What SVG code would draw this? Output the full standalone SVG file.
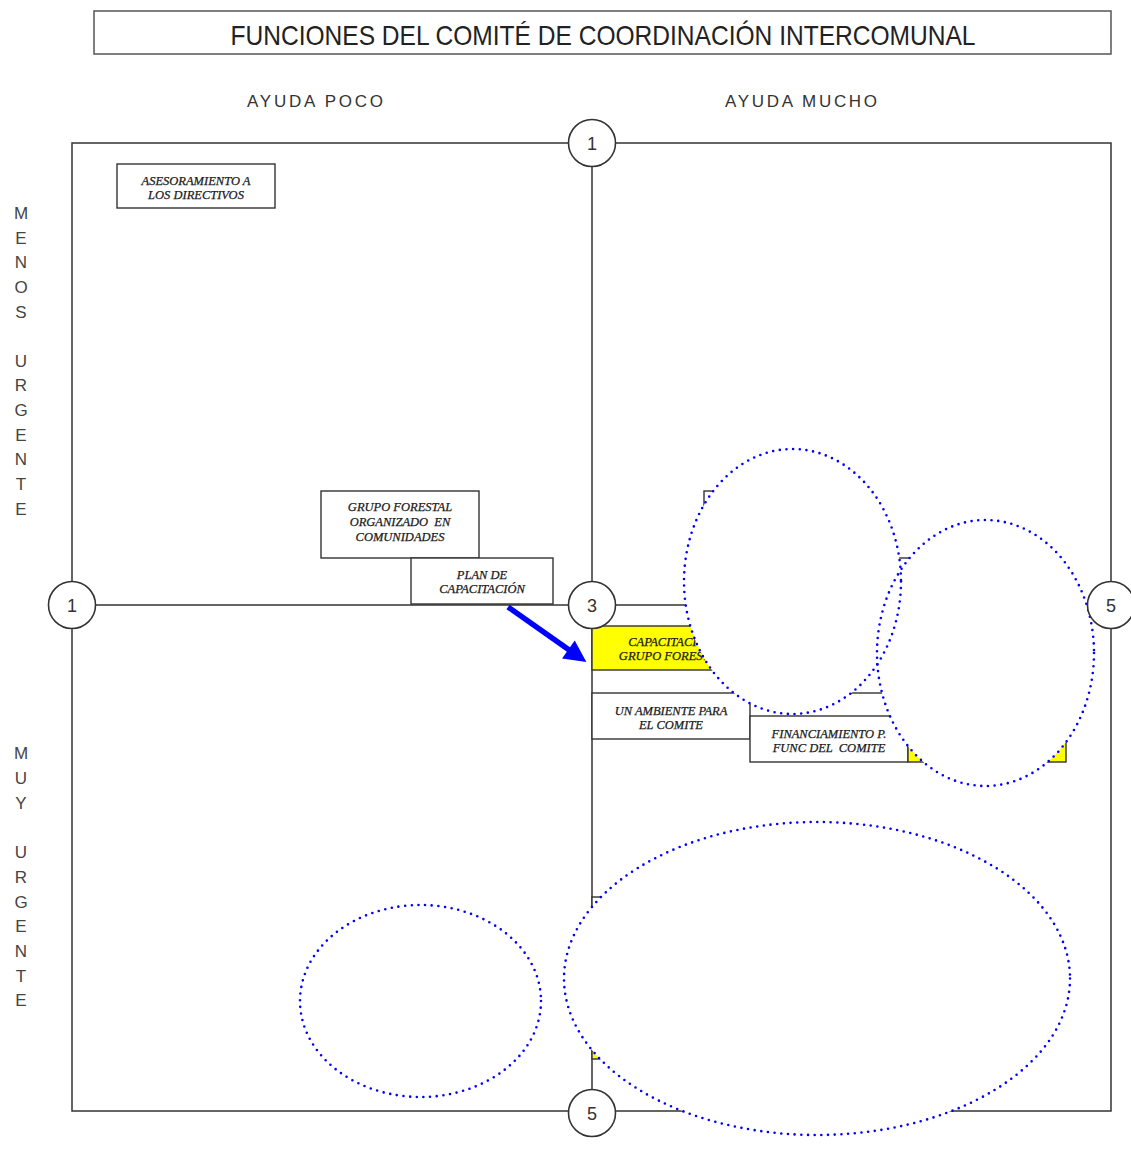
<svg xmlns="http://www.w3.org/2000/svg" width="1131" height="1171" viewBox="0 0 1131 1171">
  <style>
    .frame { fill: none; stroke: #333; stroke-width: 1.5; }
    .box { fill: #fff; stroke: #333; stroke-width: 1.4; }
    .ybox { fill: #ffff00; stroke: #333; stroke-width: 1.4; }
    .btxt { font-family: "Liberation Serif", "Times New Roman", serif; font-style: italic; font-size: 12.5px; fill: #1a1a1a; stroke: #1a1a1a; stroke-width: 0.25; text-anchor: middle; }
    .hdr { font-family: "Liberation Sans", Arial, sans-serif; font-size: 17px; fill: #333; text-anchor: middle; }
    .side { font-family: "Liberation Sans", Arial, sans-serif; font-size: 17px; fill: #444; text-anchor: middle; }
    .node circle { fill: #fff; stroke: #333; stroke-width: 1.6; }
    .node text { font-family: "Liberation Sans", Arial, sans-serif; font-size: 18px; fill: #333; text-anchor: middle; }
    .efill { fill: #fff; stroke: none; }
    .edot { fill: none; stroke: #0000ff; stroke-width: 2.6; stroke-dasharray: 0 6.7; stroke-linecap: round; }
  </style>
  <defs>
    <marker id="arrowHead" viewBox="0 0 10 10" refX="2" refY="5" markerWidth="4.4" markerHeight="4" orient="auto" markerUnits="strokeWidth">
      <path d="M0,0 L10,5 L0,10 z" fill="#0000ff"/>
    </marker>
  </defs>
  <rect width="1131" height="1171" fill="#fff"/>

  <!-- title -->
  <g id="title">
    <rect x="94" y="11" width="1017" height="43" fill="#fff" stroke="#555" stroke-width="1.5"/>
    <text x="603" y="45" font-family="'Liberation Sans', Arial, sans-serif" font-size="28" fill="#222" text-anchor="middle" textLength="745" lengthAdjust="spacingAndGlyphs">FUNCIONES DEL COMITÉ DE COORDINACIÓN INTERCOMUNAL</text>
  </g>

  <!-- column headers -->
  <text class="hdr" x="315" y="107" textLength="136" lengthAdjust="spacing">AYUDA POCO</text>
  <text class="hdr" x="801" y="107" textLength="152" lengthAdjust="spacing">AYUDA MUCHO</text>

  <!-- row labels, one letter per line -->
  <g id="label-menos-urgente" class="side">
    <text x="21" y="219">M</text><text x="21" y="244">E</text><text x="21" y="268">N</text>
    <text x="21" y="293">O</text><text x="21" y="318">S</text>
    <text x="21" y="367">U</text><text x="21" y="391">R</text><text x="21" y="416">G</text>
    <text x="21" y="441">E</text><text x="21" y="465">N</text><text x="21" y="490">T</text>
    <text x="21" y="515">E</text>
  </g>
  <g id="label-muy-urgente" class="side">
    <text x="21" y="759">M</text><text x="21" y="784">U</text><text x="21" y="809">Y</text>
    <text x="21" y="858">U</text><text x="21" y="883">R</text><text x="21" y="908">G</text>
    <text x="21" y="932">E</text><text x="21" y="957">N</text><text x="21" y="982">T</text>
    <text x="21" y="1006">E</text>
  </g>

  <!-- quadrant frame and axes -->
  <g id="axes">
    <rect class="frame" x="72" y="143" width="1039" height="968"/>
    <line class="frame" x1="592" y1="143" x2="592" y2="1111"/>
    <line class="frame" x1="72" y1="605" x2="1111" y2="605"/>
  </g>

  <!-- items -->
  <g id="n-asesoramiento">
    <rect class="box" x="117" y="164" width="158" height="44"/>
    <text class="btxt" x="196" y="185">ASESORAMIENTO A</text>
    <text class="btxt" x="196" y="199">LOS DIRECTIVOS</text>
  </g>
  <g id="n-grupo-forestal">
    <rect class="box" x="321" y="491" width="158" height="67"/>
    <text class="btxt" x="400" y="511">GRUPO FORESTAL</text>
    <text class="btxt" x="400" y="526" xml:space="preserve">ORGANIZADO  EN</text>
    <text class="btxt" x="400" y="541">COMUNIDADES</text>
  </g>
  <g id="n-plan">
    <rect class="box" x="411" y="558" width="142" height="46"/>
    <text class="btxt" x="482" y="579">PLAN DE</text>
    <text class="btxt" x="482" y="593">CAPACITACIÓN</text>
  </g>
  <g id="n-upper-a">
    <rect class="box" x="704" y="491" width="158" height="67"/>
  </g>
  <g id="n-upper-b">
    <rect class="box" x="862" y="558" width="158" height="46"/>
  </g>
  <g id="n-capacitacion">
    <rect class="ybox" x="592" y="626" width="158" height="44"/>
    <text class="btxt" x="671" y="646">CAPACITACION</text>
    <text class="btxt" x="671" y="660">GRUPO FORESTAL</text>
  </g>
  <g id="n-mid">
    <rect class="box" x="750" y="647" width="158" height="46"/>
  </g>
  <g id="n-ambiente">
    <rect class="box" x="592" y="693" width="158" height="46"/>
    <text class="btxt" x="671" y="715">UN AMBIENTE PARA</text>
    <text class="btxt" x="671" y="729">EL COMITE</text>
  </g>
  <g id="n-financiamiento">
    <rect class="box" x="750" y="716" width="158" height="46"/>
    <text class="btxt" x="829" y="738">FINANCIAMIENTO P.</text>
    <text class="btxt" x="829" y="752" xml:space="preserve">FUNC DEL  COMITE</text>
  </g>
  <g id="n-yellow-right">
    <rect class="ybox" x="908" y="716" width="158" height="46"/>
  </g>
  <g id="n-lower-a">
    <rect class="box" x="592" y="897" width="158" height="46"/>
  </g>
  <g id="n-lower-b">
    <rect class="ybox" x="592" y="1051" width="20" height="8"/>
  </g>

  <!-- connector -->
  <g id="connectors">
    <line x1="508" y1="607" x2="572" y2="652" stroke="#0000ff" stroke-width="5.5" marker-end="url(#arrowHead)"/>
  </g>

  <!-- grouping ellipses: white fills first, dotted outlines on top -->
  <g id="groups">
    <ellipse class="efill" cx="792.5" cy="581.5" rx="108.5" ry="132.5"/>
    <ellipse class="efill" cx="985.5" cy="653" rx="108.5" ry="133"/>
    <ellipse class="efill" cx="420.5" cy="1001" rx="120.5" ry="96"/>
    <ellipse class="efill" cx="817" cy="978.5" rx="253" ry="156.5"/>
    <ellipse class="edot" cx="792.5" cy="581.5" rx="108.5" ry="132.5"/>
    <ellipse class="edot" cx="985.5" cy="653" rx="108.5" ry="133"/>
    <ellipse class="edot" cx="420.5" cy="1001" rx="120.5" ry="96"/>
    <ellipse class="edot" cx="817" cy="978.5" rx="253" ry="156.5"/>
  </g>

  <!-- scale markers -->
  <g id="m-top" class="node"><circle cx="592" cy="143" r="23.5"/><text x="592" y="150">1</text></g>
  <g id="m-left" class="node"><circle cx="72" cy="605" r="23.5"/><text x="72" y="612">1</text></g>
  <g id="m-center" class="node"><circle cx="592" cy="605" r="23.5"/><text x="592" y="612">3</text></g>
  <g id="m-right" class="node"><circle cx="1111" cy="605" r="23.5"/><text x="1111" y="612">5</text></g>
  <g id="m-bottom" class="node"><circle cx="592" cy="1113" r="23.5"/><text x="592" y="1120">5</text></g>
</svg>
